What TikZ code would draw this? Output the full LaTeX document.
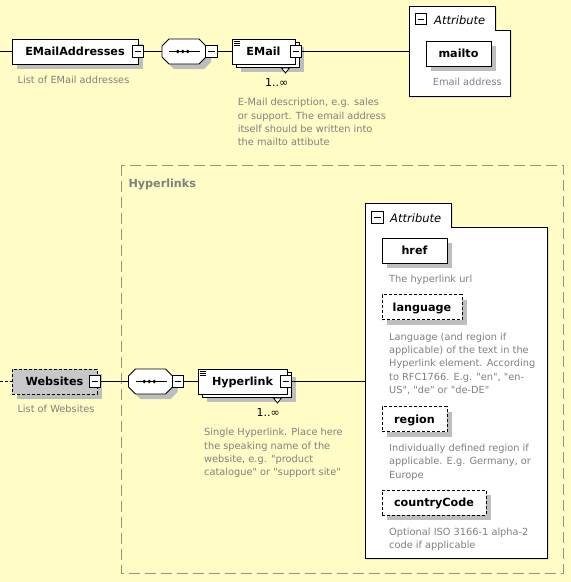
\documentclass[tikz,border=0pt]{standalone}
\usepackage{fontspec}
\setmainfont{DejaVu Sans}[Ligatures=TeXOff]
\usetikzlibrary{shadows}

\definecolor{bg}{RGB}{255,253,197}
\definecolor{shadowgray}{RGB}{190,190,190}
\definecolor{optfill}{RGB}{200,200,200}
\definecolor{descgray}{RGB}{128,128,128}
\definecolor{groupline}{RGB}{150,146,128}

\tikzset{
  conn/.style={line width=0.9pt},
  optconn/.style={conn, dash pattern=on 3pt off 2pt},
  namefont/.style={font=\bfseries\fontsize{11.2}{13}\selectfont},
  elembase/.style={draw, fill=white, line width=0.9pt, minimum height=25pt,
    inner sep=0pt, text height=8.2pt, text depth=0pt, namefont},
  elem/.style={elembase,
    drop shadow={shadow xshift=5pt, shadow yshift=-5pt, opacity=1, fill=shadowgray}},
  optelem/.style={elem, dash pattern=on 3pt off 2pt},
  multielem/.style={elembase,
    drop shadow={shadow xshift=9pt, shadow yshift=-8pt, opacity=1, fill=shadowgray},
    copy shadow={shadow xshift=4pt, shadow yshift=-3.5pt}},
  collapse/.style={draw, fill=white, line width=0.9pt, minimum width=11.5pt,
    minimum height=11.5pt, inner sep=0pt,
    path picture={\draw[line width=0.9pt]
      ([xshift=2.5pt]path picture bounding box.west) --
      ([xshift=-2.5pt]path picture bounding box.east);}},
  seqanchor/.style={minimum width=44pt, minimum height=25pt, inner sep=0pt},
  desc/.style={anchor=north west, align=left, inner sep=0pt, text=descgray,
    font=\fontsize{9.8}{13.33}\selectfont},
  mult/.style={anchor=base east, inner sep=0pt, font=\fontsize{11}{13}\selectfont},
  attrtitle/.style={anchor=base west, inner sep=0pt, font=\itshape\fontsize{11.5}{13}\selectfont},
  attrbox/.style={fill=white, draw=black, line width=0.9pt},
  attrshade/.style={fill=black!75},
  grp/.style={draw=groupline, line width=1pt, dash pattern=on 11pt off 5pt},
  grouptitle/.style={anchor=base west, inner sep=0pt, text=descgray, namefont},
  stackmark/.style={line width=0.8pt},
  notch/.style={fill=white, draw=black, line width=0.8pt}
}

% first line of a description gets a fixed height of 8pt
\newcommand\fl{\rule{0pt}{8pt}}

% sequence compositor: octagon with a dotted line inside
\newcommand\seqsym[2]{%
  \begin{scope}[shift={(#1,#2)}]
    \fill[shadowgray, shift={(5,5)}] (-15,-12.5) -- (15,-12.5) -- (22,-5.5) -- (22,5.5)
      -- (15,12.5) -- (-15,12.5) -- (-22,5.5) -- (-22,-5.5) -- cycle;
    \filldraw[fill=white, line width=0.9pt] (-15,-12.5) -- (15,-12.5) -- (22,-5.5) -- (22,5.5)
      -- (15,12.5) -- (-15,12.5) -- (-22,5.5) -- (-22,-5.5) -- cycle;
    \draw[line width=1pt] (-15,0) -- (16,0);
    \foreach \dx in {-6.3,-1.3,3.7} \fill (\dx,0) circle[radius=1.9pt];
  \end{scope}}

% three short lines in the upper left corner of a repeated element
\newcommand\stackicon[1]{%
  \foreach \dy in {2.5,4.5,6.5}
    \draw[stackmark] ([shift={(2.5pt,-\dy pt)}]#1.north west) -- ++(6,0);}

% small downward notch under the rear copy of a repeated element
\newcommand\repnotch[1]{%
  \filldraw[notch] ([shift={(-14pt,-3.5pt)}]#1.south east) --
    ([shift={(-10pt,-8.5pt)}]#1.south east) --
    ([shift={(-6pt,-3.5pt)}]#1.south east) -- cycle;}

\begin{document}
\begin{tikzpicture}[x=1pt,y=-1pt]
\path[use as bounding box, fill=bg] (0,0) rectangle (571,582);

% ---- Hyperlinks group ----
\draw[grp] (121,165) rectangle (563,573);
\node[grouptitle] (grpTitle) at (128.3,187.3) {Hyperlinks};

% ---- EMailAddresses branch ----
\coordinate (inEA) at (0,51.5);
\node[elem, minimum width=126pt] (EA) at (75,51.5) {EMailAddresses};
\node[collapse] (cEA) at (138,51.5) {};
\node[desc] (dEA) at (17.5,75) {\fl List of EMail addresses};

\seqsym{184}{51.5}
\node[seqanchor] (seq1) at (184,51.5) {};
\node[collapse] (cS1) at (211.5,51.5) {};

\node[multielem, minimum width=63pt] (EMail) at (263.5,51.5) {EMail};
\stackicon{EMail}
\repnotch{EMail}
\node[collapse] (cEM) at (296,51.5) {};
\node[mult] (mEM) at (288.5,86) {1..∞};
\node[desc] (dEM) at (237.7,97.7) {\fl E-Mail description, e.g. sales\\or support. The email address\\itself should be written into\\the mailto attibute};

% attribute box of EMail
\fill[attrshade, shift={(1.2,1.2)}] (409,6) -- (495,6) -- (495,30) -- (510,30) -- (510,96) -- (409,96) -- cycle;
\filldraw[attrbox] (409,6) -- (495,6) -- (495,30) -- (510,30) -- (510,96) -- (409,96) -- cycle;
\coordinate (attr1in) at (409,51.5);
\node[collapse] (cA1) at (421,19) {};
\node[attrtitle] (tA1) at (434,24) {Attribute};
\node[elem, minimum width=65pt] (mailto) at (458.5,53.5) {mailto};
\node[desc] (dmailto) at (432.7,77.7) {\fl Email address};

% ---- Websites branch ----
\coordinate (inWeb) at (0,381.5);
\node[optelem, fill=optfill, minimum width=85pt] (Web) at (54.5,381.5) {Websites};
\node[collapse] (cWeb) at (95,381.5) {};
\node[desc] (dWeb) at (17.3,404.7) {\fl List of Websites};

\seqsym{150.5}{381.5}
\node[seqanchor] (seq2) at (150.5,381.5) {};
\node[collapse] (cS2) at (178,381.5) {};

\node[multielem, minimum width=89pt] (Hyp) at (242.5,381.5) {Hyperlink};
\stackicon{Hyp}
\repnotch{Hyp}
\node[collapse] (cHyp) at (286,381.5) {};
\node[mult] (mHyp) at (280,416) {1..∞};
\node[desc] (dHyp) at (204,427.7) {\fl Single Hyperlink. Place here\\the speaking name of the\\website, e.g. "product\\catalogue" or "support site"};

% attribute box of Hyperlink
\fill[attrshade, shift={(1.2,1.2)}] (365,203) -- (451,203) -- (451,227) -- (547,227) -- (547,558) -- (365,558) -- cycle;
\filldraw[attrbox] (365,203) -- (451,203) -- (451,227) -- (547,227) -- (547,558) -- (365,558) -- cycle;
\coordinate (attr2in) at (365,381.5);
\node[collapse] (cA2) at (377.5,217.5) {};
\node[attrtitle] (tA2) at (390,222.3) {Attribute};

\node[elem, minimum width=65pt] (href) at (414.5,250.5) {href};
\node[desc] (dhref) at (389,274.7) {\fl The hyperlink url};

\node[optelem, minimum width=80pt] (lang) at (422,307) {language};
\node[desc] (dlang) at (389,332) {\fl Language (and region if\\applicable) of the text in the\\Hyperlink element. According\\to RFC1766. E.g. "en", "en-\\US", "de" or "de-DE"};

\node[optelem, minimum width=65pt] (region) at (414.5,419) {region};
\node[desc] (dregion) at (389,443.3) {\fl Individually defined region if\\applicable. E.g. Germany, or\\Europe};

\node[optelem, minimum width=104pt] (cc) at (434,502.5) {countryCode};
\node[desc] (dcc) at (389,527) {\fl Optional ISO 3166-1 alpha-2\\code if applicable};

% ---- connectors ----
\draw[conn] (inEA) -- (EA.west);
\draw[conn] (cEA.east) -- (seq1.west);
\draw[conn] (cS1.east) -- (EMail.west);
\draw[conn] (cEM.east) -- (attr1in);

\draw[optconn] (inWeb) -- (Web.west);
\draw[conn] (cWeb.east) -- (seq2.west);
\draw[conn] (cS2.east) -- (Hyp.west);
\draw[conn] (cHyp.east) -- (attr2in);
\end{tikzpicture}
\end{document}
